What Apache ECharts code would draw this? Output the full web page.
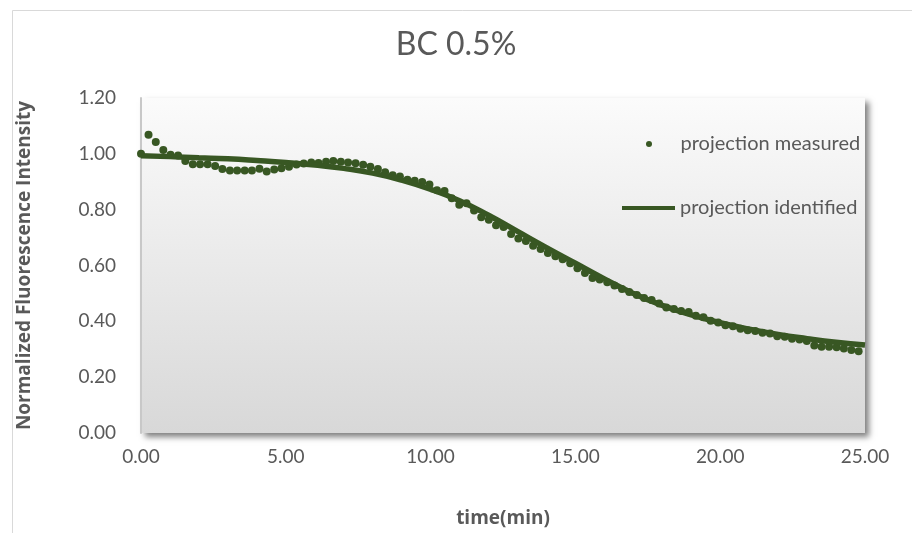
<!DOCTYPE html>
<html>
<head>
<meta charset="utf-8">
<script src="https://cdn.jsdelivr.net/npm/echarts@6/dist/echarts.min.js"></script>
<style>
  html, body { margin: 0; padding: 0; background: #ffffff; }
  #chart { width: 912px; height: 533px; }
</style>
</head>
<body>
<div id="chart"></div>
<script>
// Measured projection: sample times (min) and normalized intensity
const measuredTime = [
  0.00, 0.26, 0.51, 0.77, 1.02, 1.28, 1.53, 1.79, 2.04, 2.30,
  2.56, 2.81, 3.07, 3.32, 3.58, 3.83, 4.09, 4.34, 4.60, 4.85,
  5.11, 5.37, 5.62, 5.88, 6.13, 6.39, 6.64, 6.90, 7.15, 7.41,
  7.67, 7.92, 8.18, 8.43, 8.69, 8.94, 9.20, 9.45, 9.71, 9.96,
  10.22, 10.48, 10.73, 10.99, 11.24, 11.50, 11.75, 12.01, 12.26, 12.52,
  12.78, 13.03, 13.29, 13.54, 13.80, 14.05, 14.31, 14.56, 14.82, 15.07,
  15.33, 15.59, 15.84, 16.10, 16.35, 16.61, 16.86, 17.12, 17.37, 17.63,
  17.89, 18.14, 18.40, 18.65, 18.91, 19.16, 19.42, 19.67, 19.93, 20.18,
  20.44, 20.70, 20.95, 21.21, 21.46, 21.72, 21.97, 22.23, 22.48, 22.74,
  22.99, 23.25, 23.50, 23.76, 24.02, 24.27, 24.53, 24.78
];
const measuredValue = [
  1.000, 1.068, 1.042, 1.014, 0.997, 0.994, 0.974, 0.963, 0.963, 0.963,
  0.956, 0.946, 0.940, 0.940, 0.940, 0.940, 0.947, 0.937, 0.944, 0.948,
  0.954, 0.962, 0.965, 0.969, 0.967, 0.972, 0.974, 0.972, 0.969, 0.966,
  0.961, 0.954, 0.946, 0.934, 0.923, 0.919, 0.907, 0.904, 0.899, 0.890,
  0.870, 0.867, 0.841, 0.818, 0.823, 0.797, 0.773, 0.764, 0.744, 0.738,
  0.713, 0.697, 0.688, 0.671, 0.659, 0.645, 0.633, 0.622, 0.608, 0.590,
  0.573, 0.555, 0.550, 0.540, 0.528, 0.516, 0.505, 0.494, 0.484, 0.476,
  0.464, 0.450, 0.444, 0.437, 0.433, 0.420, 0.415, 0.402, 0.396, 0.386,
  0.382, 0.373, 0.368, 0.365, 0.359, 0.356, 0.347, 0.345, 0.338, 0.335,
  0.330, 0.313, 0.309, 0.309, 0.307, 0.303, 0.297, 0.293
];

// Identified (fitted) projection
const identifiedTime = [
  0, 1, 2, 3, 4, 5, 6, 7, 8, 9, 10, 11, 12,
  13, 14, 15, 16, 17, 18, 19, 20, 21, 22, 23, 24, 25
];
const identifiedValue = [
  0.993, 0.990, 0.986, 0.982, 0.976, 0.969, 0.960, 0.948, 0.931, 0.906,
  0.873, 0.832, 0.780, 0.722, 0.664, 0.608, 0.552, 0.500, 0.457, 0.423,
  0.395, 0.372, 0.353, 0.338, 0.325, 0.315
];

const seriesNames = ['projection measured', 'projection identified'];
const chartTitle = 'BC 0.5%';
const xAxisTitle = 'time(min)';
const yAxisTitle = 'Normalized Fluorescence Intensity';

const green = '#385723';
const textGrey = '#595959';
const fontFamily = 'Lato, "Open Sans", sans-serif';
const titleFont = '"Open Sans", Lato, sans-serif';

const chart = echarts.init(document.getElementById('chart'), null, { renderer: 'canvas' });

chart.setOption({
  backgroundColor: '#ffffff',
  animation: false,
  title: {
    text: chartTitle,
    left: 'center',
    top: 24,
    textStyle: { color: textGrey, fontSize: 32, fontWeight: 'normal', fontFamily: fontFamily }
  },
  graphic: [
    {
      type: 'rect',
      left: 10, top: 8,
      shape: { width: 910, height: 540 },
      style: { fill: 'none', stroke: '#d9d9d9', lineWidth: 1 },
      silent: true, z: -10
    }
  ],
  legend: [
    {
      data: [{ name: seriesNames[0], icon: 'circle' }],
      left: 641, top: 129,
      itemWidth: 53, itemHeight: 6,
      textStyle: { color: textGrey, fontSize: 20, fontFamily: fontFamily }
    },
    {
      data: [{ name: seriesNames[1], icon: 'rect' }],
      left: 617, top: 193,
      itemWidth: 53, itemHeight: 4,
      textStyle: { color: textGrey, fontSize: 20, fontFamily: fontFamily }
    }
  ],
  grid: {
    left: 141, right: 47, top: 98, bottom: 92,
    show: true,
    borderWidth: 0,
    backgroundColor: new echarts.graphic.LinearGradient(0, 0, 0, 1, [
      { offset: 0, color: '#fbfbfb' },
      { offset: 1, color: '#d8d8d8' }
    ]),
    shadowColor: 'rgba(0,0,0,0.5)',
    shadowBlur: 6,
    shadowOffsetX: 4,
    shadowOffsetY: 4
  },
  xAxis: {
    type: 'value',
    min: 0, max: 25, interval: 5,
    name: xAxisTitle,
    nameLocation: 'middle',
    nameGap: 76,
    nameTextStyle: { color: textGrey, fontSize: 19, fontWeight: 'bold', fontFamily: titleFont },
    axisLine: { show: false },
    axisTick: { show: false },
    splitLine: { show: false },
    axisLabel: {
      color: textGrey, fontSize: 19, fontFamily: fontFamily, margin: 14,
      formatter: v => v.toFixed(2)
    }
  },
  yAxis: {
    type: 'value',
    min: 0, max: 1.2, interval: 0.2,
    name: yAxisTitle,
    nameLocation: 'middle',
    nameGap: 107,
    nameTextStyle: { color: textGrey, fontSize: 19, fontWeight: 'bold', fontFamily: titleFont },
    axisLine: { show: true, lineStyle: { color: '#c8c8c8', width: 2 } },
    axisTick: { show: false },
    splitLine: { show: false },
    axisLabel: {
      color: textGrey, fontSize: 19, fontFamily: fontFamily, margin: 25,
      formatter: v => v.toFixed(2)
    }
  },
  series: [
    {
      name: seriesNames[0],
      type: 'scatter',
      data: measuredTime.map((t, i) => [t, measuredValue[i]]),
      symbol: 'circle',
      symbolSize: 8,
      itemStyle: { color: green, opacity: 1 },
      z: 2
    },
    {
      name: seriesNames[1],
      type: 'line',
      data: identifiedTime.map((t, i) => [t, identifiedValue[i]]),
      smooth: true,
      showSymbol: false,
      symbol: 'none',
      lineStyle: { color: green, width: 5.5 },
      itemStyle: { color: green },
      z: 3
    }
  ]
});
</script>
</body>
</html>
